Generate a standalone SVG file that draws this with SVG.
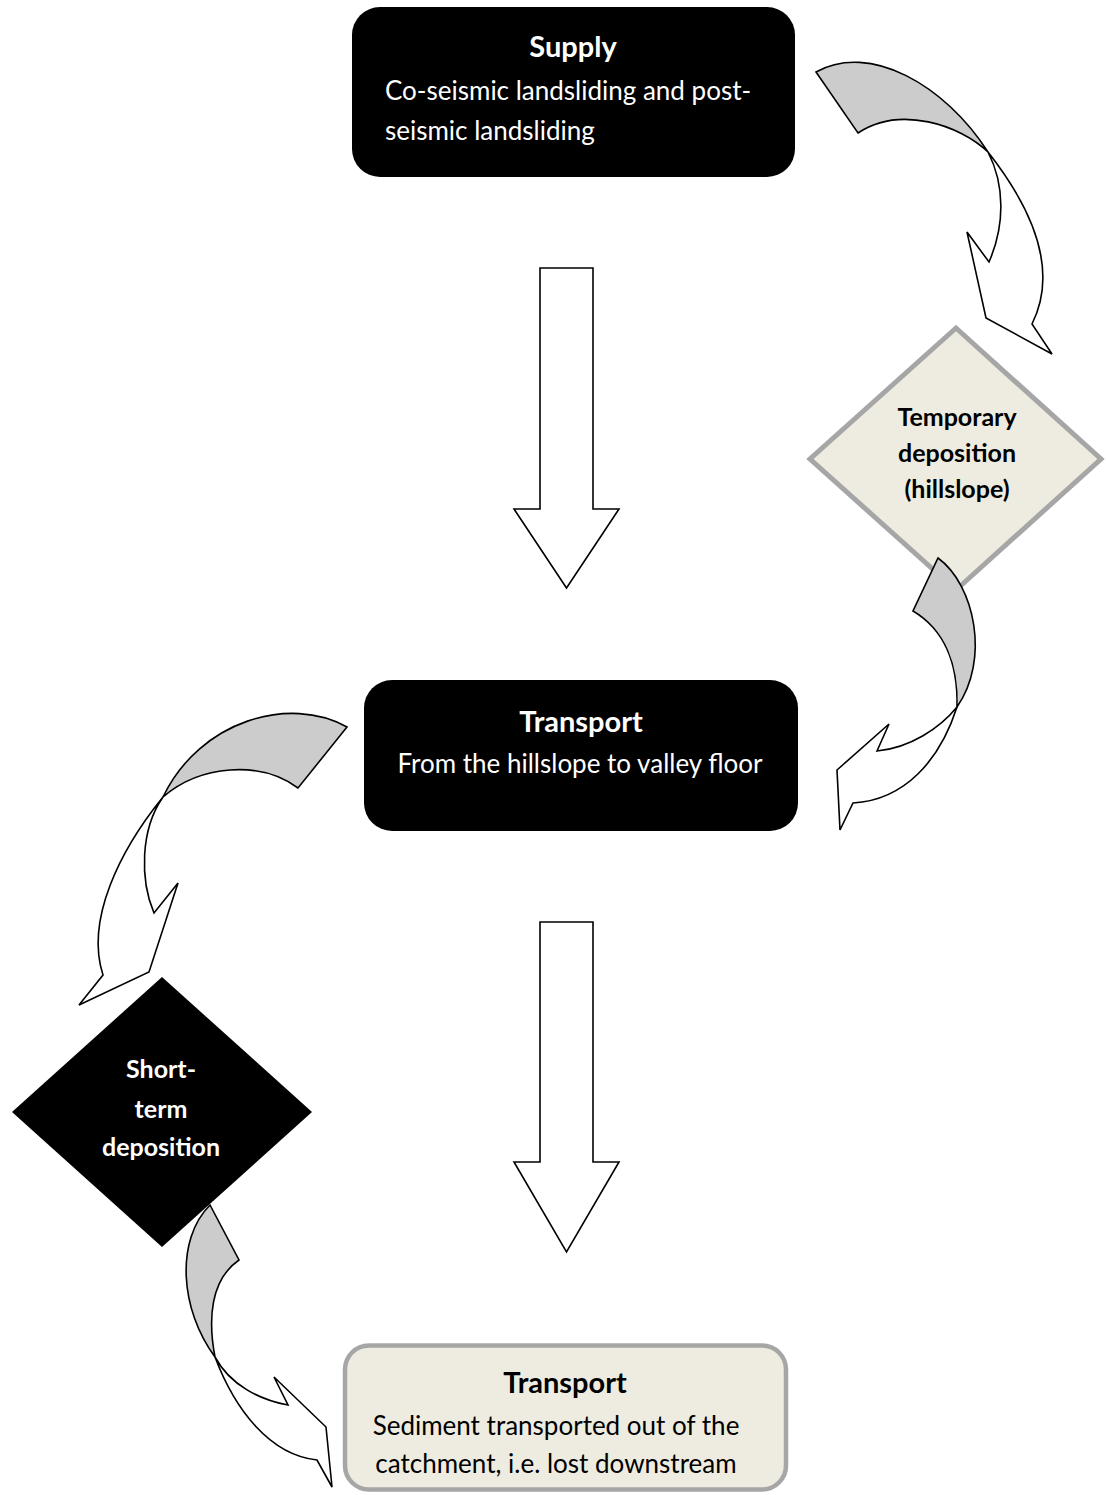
<svg xmlns="http://www.w3.org/2000/svg" width="1106" height="1495" viewBox="0 0 1106 1495">
<style>
.t{font-family:Lato,"Open Sans","Liberation Sans",sans-serif;}
.title{font-size:29px;font-weight:bold;text-anchor:middle;}
.body{font-size:26px;}
.dia{font-size:25px;font-weight:bold;text-anchor:middle;}
.w{fill:#FFFFFF;}
.k{fill:#000000;}
.arrow{fill:#FFFFFF;stroke:#000000;stroke-width:1.6;stroke-linejoin:miter;}
.back{fill:#CCCCCC;stroke:#000000;stroke-width:1.6;stroke-linejoin:miter;}
</style>
<rect width="1106" height="1495" fill="#FFFFFF"/>
<g id="supply">
<rect x="352" y="7" width="443" height="170" rx="28" ry="28" fill="#000000"/>
<text class="t title w" x="573" y="57">Supply</text>
<text class="t body w" x="385" y="100">Co-seismic landsliding and post-</text>
<text class="t body w" x="385" y="140">seismic landsliding</text>
</g>
<g id="temporary-deposition">
<polygon points="956,328 1101,459 956,590 810,459" fill="#EEECE1" stroke="#A6A6A6" stroke-width="5"/>
<text class="t dia k" x="957" y="426">Temporary</text>
<text class="t dia k" x="957" y="462">deposition</text>
<text class="t dia k" x="957" y="498">(hillslope)</text>
</g>
<g id="transport-1">
<rect x="364" y="680" width="434" height="151" rx="28" ry="28" fill="#000000"/>
<text class="t title w" x="581" y="732">Transport</text>
<text class="t body w" x="580" y="773" text-anchor="middle">From the hillslope to valley floor</text>
</g>
<g id="short-term-deposition">
<polygon points="162,977 312,1112 162,1247 12,1112" fill="#000000"/>
<text class="t dia w" x="161" y="1078">Short-</text>
<text class="t dia w" x="161" y="1118">term</text>
<text class="t dia w" x="161" y="1156">deposition</text>
</g>
<g id="transport-2">
<rect x="345" y="1345.5" width="441" height="144" rx="24" ry="24" fill="#EEECE1" stroke="#A6A6A6" stroke-width="4.5"/>
<text class="t title k" x="565" y="1393">Transport</text>
<text class="t body k" x="556" y="1435" text-anchor="middle">Sediment transported out of the</text>
<text class="t body k" x="556" y="1473" text-anchor="middle">catchment, i.e. lost downstream</text>
</g>
<g id="connectors">
<path class="arrow" d="M540,268 L593,268 L593,509 L619,509 L566.5,588 L514,509 L540,509 Z"/>
<path class="arrow" d="M540,922 L593,922 L593,1162 L619,1162 L566.5,1252 L514,1162 L540,1162 Z"/>
<path class="arrow" d="M988,152 C1035,212 1058,272 1032,324 L1052,354 L986,318 L967,232 L989,262 C1005,225 1005,185 988,152 Z"/>
<path class="back" d="M816,72 C870,42 945,85 988,152 C960,125 900,105 858,133 Z"/>
<path class="arrow" d="M957,707 C940,760 905,800 853,803 L840,830 L837,770 L889,724 L877,751 C910,748 940,728 957,707 Z"/>
<path class="back" d="M938,558 C975,585 990,660 957,707 C958,665 945,630 913,611 Z"/>
<path class="arrow" d="M163,797 C120,850 85,920 103,975 L79,1005 L149,972 L178,883 L154,913 C140,880 140,830 163,797 Z"/>
<path class="back" d="M347,727 C290,695 200,720 163,797 C200,765 260,760 298,788 Z"/>
<path class="arrow" d="M215,1357 C235,1410 270,1455 317,1460 L332,1487 L326,1427 L274,1377 L288,1405 C260,1400 230,1385 215,1357 Z"/>
<path class="back" d="M210,1205 C175,1240 180,1310 215,1357 C208,1320 210,1280 239,1260 Z"/>
</g>
</svg>
